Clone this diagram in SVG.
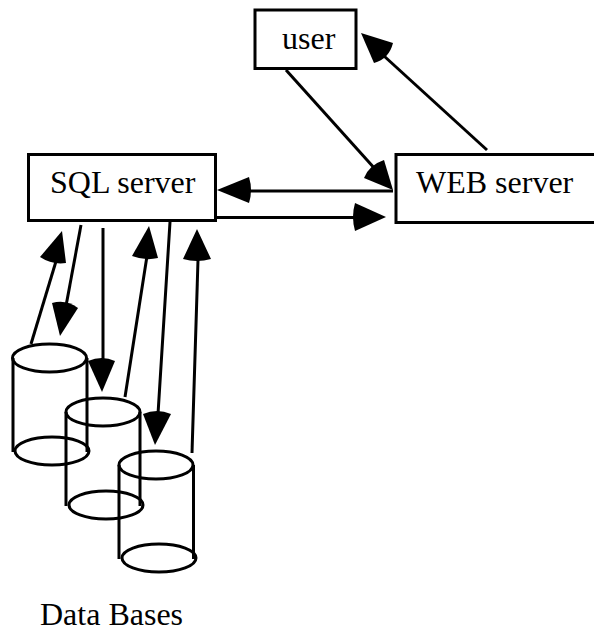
<svg xmlns="http://www.w3.org/2000/svg" width="594" height="628" viewBox="0 0 594 628">
<style>
.b{fill:#fff;stroke:#000;stroke-width:3}
.s{fill:none;stroke:#000;stroke-width:3}
.c{fill:none;stroke:#000;stroke-width:3}
.h{fill:#000;stroke:none}
text{font-family:"Liberation Serif","Times New Roman",serif;font-size:32px;fill:#000}
</style>
<rect width="594" height="628" fill="#fff"/>
<g id="user"><rect class="b" x="255" y="10" width="101" height="58.500"/><text x="282" y="49">user</text></g>
<g id="web-server"><rect class="b" x="396" y="154.500" width="200" height="68"/><text x="416" y="192.500">WEB server</text></g>
<g id="sql-server"><rect class="b" x="28.500" y="154.500" width="187" height="66"/><text x="50" y="192.500">SQL server</text></g>
<g id="db-1"><path class="c" d="M13 358V452M87 358V452"/><ellipse class="c" cx="49.500" cy="358" rx="37" ry="14"/><ellipse class="c" cx="52" cy="451" rx="37" ry="14"/></g>
<g id="db-2"><path class="c" d="M66 412V506M140 412V506"/><ellipse class="c" cx="103" cy="412" rx="37" ry="14"/><ellipse class="c" cx="106" cy="505" rx="37" ry="14"/></g>
<g id="db-3"><path class="c" d="M119 465V559M193.500 465V559"/><ellipse class="c" cx="156" cy="465" rx="37" ry="14"/><ellipse class="c" cx="159" cy="558" rx="37" ry="14"/></g>
<text id="label" x="40" y="625">Data Bases</text>
<g id="connectors">
<path class="s" d="M31 344L57 258"/><path class="h" d="M62 231L40 257Q52 265 66 263Z"/>
<path class="s" d="M81 225L66 306"/><path class="h" d="M60 336L52 303Q66 299 78 308Z"/>
<path class="s" d="M103 228V362"/><path class="h" d="M102 392L88 361Q102 355 115 361Z"/>
<path class="s" d="M125 397L147 256"/><path class="h" d="M149 226L132 256Q145 261 158 258Z"/>
<path class="s" d="M170 222L158 414"/><path class="h" d="M155 445L143 414Q157 408 171 414Z"/>
<path class="s" d="M192 453L198 260"/><path class="h" d="M197 229L183 259Q197 263 211 259Z"/>
<path class="s" d="M286 70L376 170"/><path class="h" d="M393 190L364 178Q369 165 384 160Z"/>
<path class="s" d="M487 150L384 56"/><path class="h" d="M361 33L374 63Q389 59 393 43Z"/>
<path class="s" d="M393 191H249"/><path class="h" d="M217 190L249 177Q253 190 249 203Z"/>
<path class="s" d="M216 217.500H356"/><path class="h" d="M386 217L355 203Q351 217 355 231Z"/>
</g>
</svg>
